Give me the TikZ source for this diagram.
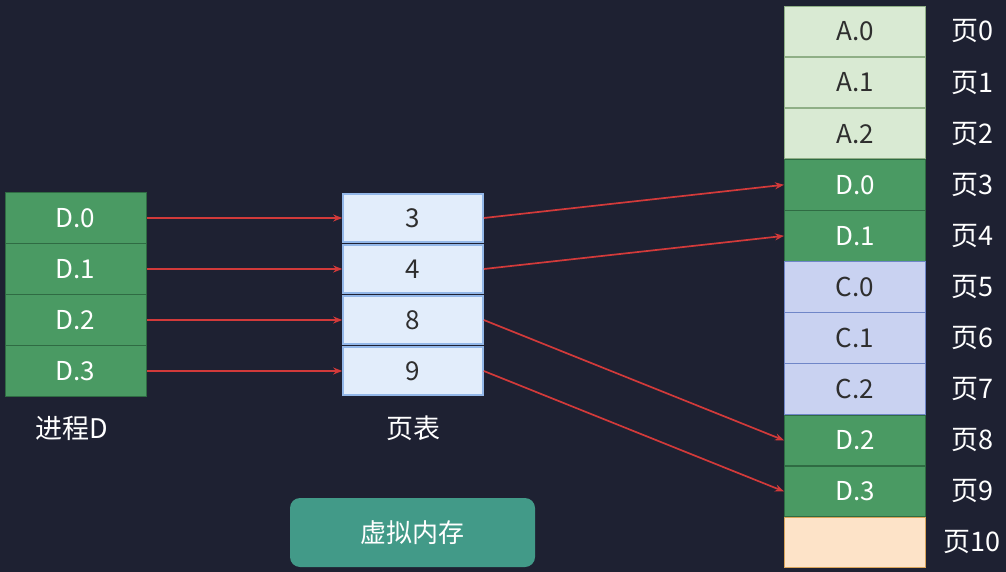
\documentclass[tikz,border=0pt]{standalone}
\usepackage{fontspec}
\setmainfont{Noto Sans CJK SC}
\usetikzlibrary{arrows.meta}
\definecolor{bg}{HTML}{1E2132}
\definecolor{dgreen}{HTML}{4A9A63}
\definecolor{dgreenb}{HTML}{2F6B43}
\definecolor{lgreen}{HTML}{D9EAD3}
\definecolor{lgreenb}{HTML}{8FAF86}
\definecolor{lblue}{HTML}{C9D2F1}
\definecolor{lblueb}{HTML}{6F86C8}
\definecolor{peach}{HTML}{FDE3C8}
\definecolor{peachb}{HTML}{D9A45A}
\definecolor{ptfill}{HTML}{E2EDFB}
\definecolor{ptb}{HTML}{93B7E8}
\definecolor{btn}{HTML}{429A88}
\definecolor{arr}{HTML}{D23A3A}
\definecolor{dtext}{HTML}{2E2E2E}
\begin{document}
\begin{tikzpicture}[x=1pt,y=-1pt,
  cell/.style={rectangle,minimum width=141pt,minimum height=50.5pt,inner sep=0pt,font=\fontsize{26}{28}\selectfont,line width=1pt},
  greencell/.style={cell,fill=dgreen,draw=dgreenb,text=white},
  acell/.style={cell,fill=lgreen,draw=lgreenb,text=dtext},
  ccell/.style={cell,fill=lblue,draw=lblueb,text=dtext},
  ecell/.style={cell,fill=peach,draw=peachb,text=dtext},
  ptcell/.style={cell,fill=ptfill,draw=ptb,line width=1.6pt,text=dtext,minimum width=140pt,minimum height=48.5pt},
  lbl/.style={text=white,font=\fontsize{27}{29}\selectfont},
  link/.style={draw=arr,line width=1.7pt,-{Stealth[length=9pt,width=7pt]}}
]
\fill[bg] (0,0) rectangle (1006,572);
\useasboundingbox (0,0) rectangle (1006,572);
% process D
\foreach \i in {0,1,2,3}{
  \node[greencell] (p\i) at (75.5,{218+51*\i}) {D.\i};
}
\node[lbl] (plbl) at (72,428) {进程D};
% page table
\node[ptcell] (t0) at (413,{218+51*0}) {3};
\node[ptcell] (t1) at (413,{218+51*1}) {4};
\node[ptcell] (t2) at (413,{218+51*2}) {8};
\node[ptcell] (t3) at (413,{218+51*3}) {9};
\node[lbl] (tlbl) at (413,428) {页表};
% memory
\node[acell] (m0) at (855,{31.5+51.1*0}) {A.0};
\node[acell] (m1) at (855,{31.5+51.1*1}) {A.1};
\node[acell] (m2) at (855,{31.5+51.1*2}) {A.2};
\node[greencell] (m3) at (855,{31.5+51.1*3}) {D.0};
\node[greencell] (m4) at (855,{31.5+51.1*4}) {D.1};
\node[ccell] (m5) at (855,{31.5+51.1*5}) {C.0};
\node[ccell] (m6) at (855,{31.5+51.1*6}) {C.1};
\node[ccell] (m7) at (855,{31.5+51.1*7}) {C.2};
\node[greencell] (m8) at (855,{31.5+51.1*8}) {D.2};
\node[greencell] (m9) at (855,{31.5+51.1*9}) {D.3};
\node[ecell] (m10) at (855,{31.5+51.1*10}) {};
\foreach \i in {0,...,9}{
  \node[lbl] (ml\i) at (972,{31.5+51.1*\i}) {页\i};
}
\node[lbl] (ml10) at (972,{31.5+51.1*10}) {页10};
% arrows
\foreach \i in {0,1,2,3}{
  \draw[link] (p\i.east) -- (t\i.west);
}
\draw[link] (t0.east) -- (m3.west);
\draw[link] (t1.east) -- (m4.west);
\draw[link] (t2.east) -- (m8.west);
\draw[link] (t3.east) -- (m9.west);
% button
\node[rectangle,rounded corners=10pt,fill=btn,minimum width=245pt,minimum height=69pt,text=white,font=\fontsize{26}{28}\selectfont] (btn) at (412.5,532.5) {虚拟内存};
\end{tikzpicture}
\end{document}
